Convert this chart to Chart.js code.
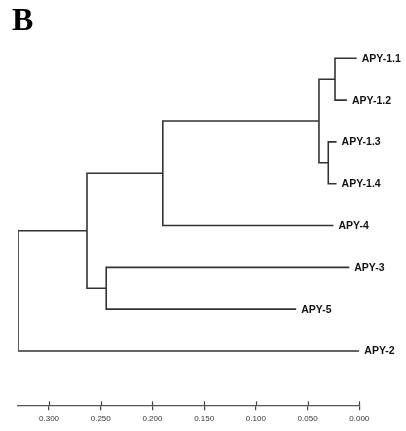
<!DOCTYPE html>
<html>
<head>
<meta charset="utf-8">
<script src="https://cdn.jsdelivr.net/npm/chart.js@4/dist/chart.umd.min.js"></script>
<style>
  html, body { margin: 0; padding: 0; background: #fff; }
  #wrap { width: 406px; height: 431px; position: relative; }
</style>
</head>
<body>
<div id="wrap"><canvas id="treeChart"></canvas></div>
<script>
// Hojas del árbol (orden de arriba a abajo) y distancia donde termina cada rama
const leafLabels = ['APY-1.1', 'APY-1.2', 'APY-1.3', 'APY-1.4', 'APY-4', 'APY-3', 'APY-5', 'APY-2'];
const leafDist = [0.0025, 0.012, 0.022, 0.022, 0.025, 0.0097, 0.061, 0.0];

// Nodos internos: hijos (índices; >= 8 son nodos internos) y distancia del nodo
const nodeLeft = [0, 2, 8, 10, 5, 11, 13];
const nodeRight = [1, 3, 9, 4, 6, 12, 7];
const nodeDist = [0.0235, 0.030, 0.039, 0.190, 0.2447, 0.2633, 0.33];

// Marcas del eje
const axisTicks = [0, 0.05, 0.10, 0.15, 0.20, 0.25, 0.30];

// Posiciones (distancia, fila) de cada hoja y nodo
const dist = leafDist.slice();
const row = leafLabels.map((l, i) => i);
nodeDist.forEach((d, i) => {
    dist.push(d);
    row.push((row[nodeLeft[i]] + row[nodeRight[i]]) / 2);
});

// Un dataset por nodo interno: codo con las dos ramas
const datasets = nodeDist.map((d, i) => {
    const a = nodeLeft[i];
    const b = nodeRight[i];
    return {
        data: [
            { x: dist[a], y: row[a] },
            { x: d, y: row[a] },
            { x: d, y: row[b] },
            { x: dist[b], y: row[b] }
        ],
        borderColor: '#333',
        borderWidth: 1.6,
        pointRadius: 0,
        tension: 0,
        fill: false
    };
});

// Plugin para etiquetas, la letra del panel y las marcas que cruzan el eje
const treeLabels = {
    id: 'treeLabels',
    afterDraw(chart) {
        const ctx = chart.ctx;
        const xs = chart.scales.x;
        const ys = chart.scales.y;
        ctx.save();
        ctx.fillStyle = '#111';
        ctx.font = 'bold 10.5px "Liberation Sans", Arial, sans-serif';
        ctx.textBaseline = 'middle';
        ctx.textAlign = 'left';
        leafLabels.forEach((label, i) => {
            ctx.fillText(label, xs.getPixelForValue(leafDist[i]) + 5, ys.getPixelForValue(i) + 0.5);
        });

        ctx.font = 'bold 32px "Liberation Serif", "Times New Roman", serif';
        ctx.textBaseline = 'alphabetic';
        ctx.fillStyle = '#000';
        ctx.fillText('B', 12, 30);

        ctx.strokeStyle = '#444';
        ctx.lineWidth = 1.2;
        const yb = chart.chartArea.bottom;
        axisTicks.forEach(t => {
            const px = Math.round(xs.getPixelForValue(t)) + 0.5;
            ctx.beginPath();
            ctx.moveTo(px, yb - 4);
            ctx.lineTo(px, yb);
            ctx.stroke();
        });
        ctx.restore();
    }
};

new Chart(document.getElementById('treeChart').getContext('2d'), {
    type: 'line',
    data: { datasets: datasets },
    options: {
        responsive: true,
        maintainAspectRatio: false,
        animation: false,
        layout: { padding: { top: 37.4, left: 18, right: 46.7, bottom: 0 } },
        plugins: {
            legend: { display: false },
            tooltip: { enabled: false }
        },
        scales: {
            x: {
                type: 'linear',
                reverse: true,
                min: 0,
                max: 0.33,
                afterFit(scale) { scale.height = 25.7; },
                border: { display: true, color: '#555', width: 1.2 },
                grid: { drawOnChartArea: false, tickLength: 5, color: '#444', lineWidth: 1.2 },
                ticks: {
                    stepSize: 0.05,
                    includeBounds: false,
                    maxRotation: 0,
                    padding: 4,
                    color: '#333',
                    font: { family: '"Liberation Sans", Arial, sans-serif', size: 8 },
                    callback: v => v.toFixed(3)
                }
            },
            y: {
                type: 'linear',
                display: false,
                reverse: true,
                min: -0.5,
                max: 8.3
            }
        }
    },
    plugins: [treeLabels]
});
</script>
</body>
</html>
